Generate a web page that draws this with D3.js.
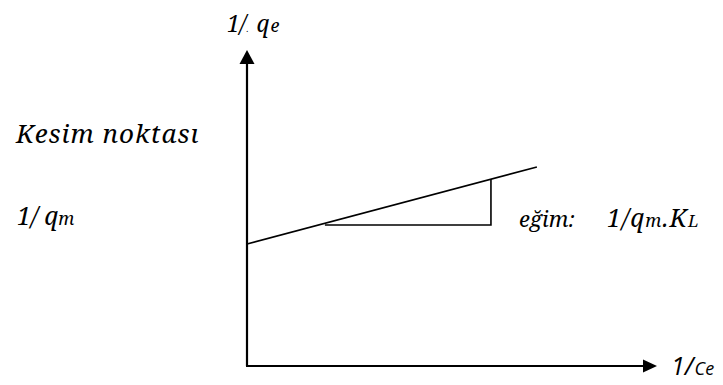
<!DOCTYPE html>
<html>
<head>
<meta charset="utf-8">
<script src="https://cdn.jsdelivr.net/npm/d3@7"></script>
<style>
  html, body { margin: 0; padding: 0; background: #fff; }
  svg { display: block; }
</style>
</head>
<body>
<div id="container"></div>
<script>
// schematic values (abstract units, axes run 0..10)
const xDomain = [0, 10]
const yDomain = [0, 10]
const fitLine = [[0, 3.86], [7.07, 6.3]]
const slopeTriangle = [[1.9, 4.46], [5.95, 4.46], [5.95, 5.92]]

const width = 723
const height = 385
const serifFont = "Noto Serif"
const sansFont = "Open Sans"

const x = d3.scaleLinear().domain(xDomain).range([247, 657])
const y = d3.scaleLinear().domain(yDomain).range([366, 50])

const svg = d3.select("#container")
    .append("svg")
    .attr("width", width)
    .attr("height", height)

// axes
const axisColor = "#000"
svg.append("line")
    .attr("x1", x(0)).attr("y1", y(0))
    .attr("x2", x(0)).attr("y2", y(10) + 12)
    .attr("stroke", axisColor)
    .attr("stroke-width", 2.2)

svg.append("line")
    .attr("x1", x(0) - 1).attr("y1", y(0))
    .attr("x2", x(10) - 12).attr("y2", y(0))
    .attr("stroke", axisColor)
    .attr("stroke-width", 2.2)

// arrow heads
svg.append("path")
    .attr("d", `M${x(0)},${y(10)} L${x(0) - 7.5},${y(10) + 14} L${x(0) + 7.5},${y(10) + 14} Z`)
    .attr("fill", axisColor)

svg.append("path")
    .attr("d", `M${x(10)},${y(0)} L${x(10) - 14},${y(0) - 6.5} L${x(10) - 14},${y(0) + 6.5} Z`)
    .attr("fill", axisColor)

const lineGen = d3.line()
    .x(d => x(d[0]))
    .y(d => y(d[1]))

svg.append("path")
    .datum(fitLine)
    .attr("d", lineGen)
    .attr("fill", "none")
    .attr("stroke", "#000")
    .attr("stroke-width", 1.6)

svg.append("path")
    .datum(slopeTriangle)
    .attr("d", lineGen)
    .attr("fill", "none")
    .attr("stroke", "#000")
    .attr("stroke-width", 1.6)

// labels
function label(xPos, yPos, size, family) {
    return svg.append("text")
        .attr("x", xPos)
        .attr("y", yPos)
        .attr("font-family", family || serifFont)
        .attr("font-style", "italic")
        .attr("font-size", size)
        .attr("fill", "#000")
}

const yLabel = label(227, 32, 23)
yLabel.append("tspan").text("1/")
yLabel.append("tspan").attr("font-size", 8).text(".")
yLabel.append("tspan").attr("dx", 8).text("q")
yLabel.append("tspan").attr("font-size", 18).attr("dx", 1).text("e")

label(16, 143, 26).attr("letter-spacing", 1).text("Kesim noktası")

const interceptLabel = label(17, 225, 25)
interceptLabel.append("tspan").text("1/")
interceptLabel.append("tspan").attr("dx", 6).text("q")
interceptLabel.append("tspan").attr("font-size", 18).text("m")

label(519, 227, 22).text("eğim:")

const slopeLabel = label(607, 227, 25).attr("letter-spacing", 1)
slopeLabel.append("tspan").text("1/q")
slopeLabel.append("tspan").attr("font-size", 18).text("m")
slopeLabel.append("tspan").text(".K")
slopeLabel.append("tspan").attr("font-size", 17).text("L")

const xLabel = label(671, 375, 25, sansFont)
xLabel.append("tspan").text("1/")
xLabel.append("tspan").attr("font-size", 18).attr("dx", 1).text("Ce")
</script>
</body>
</html>
